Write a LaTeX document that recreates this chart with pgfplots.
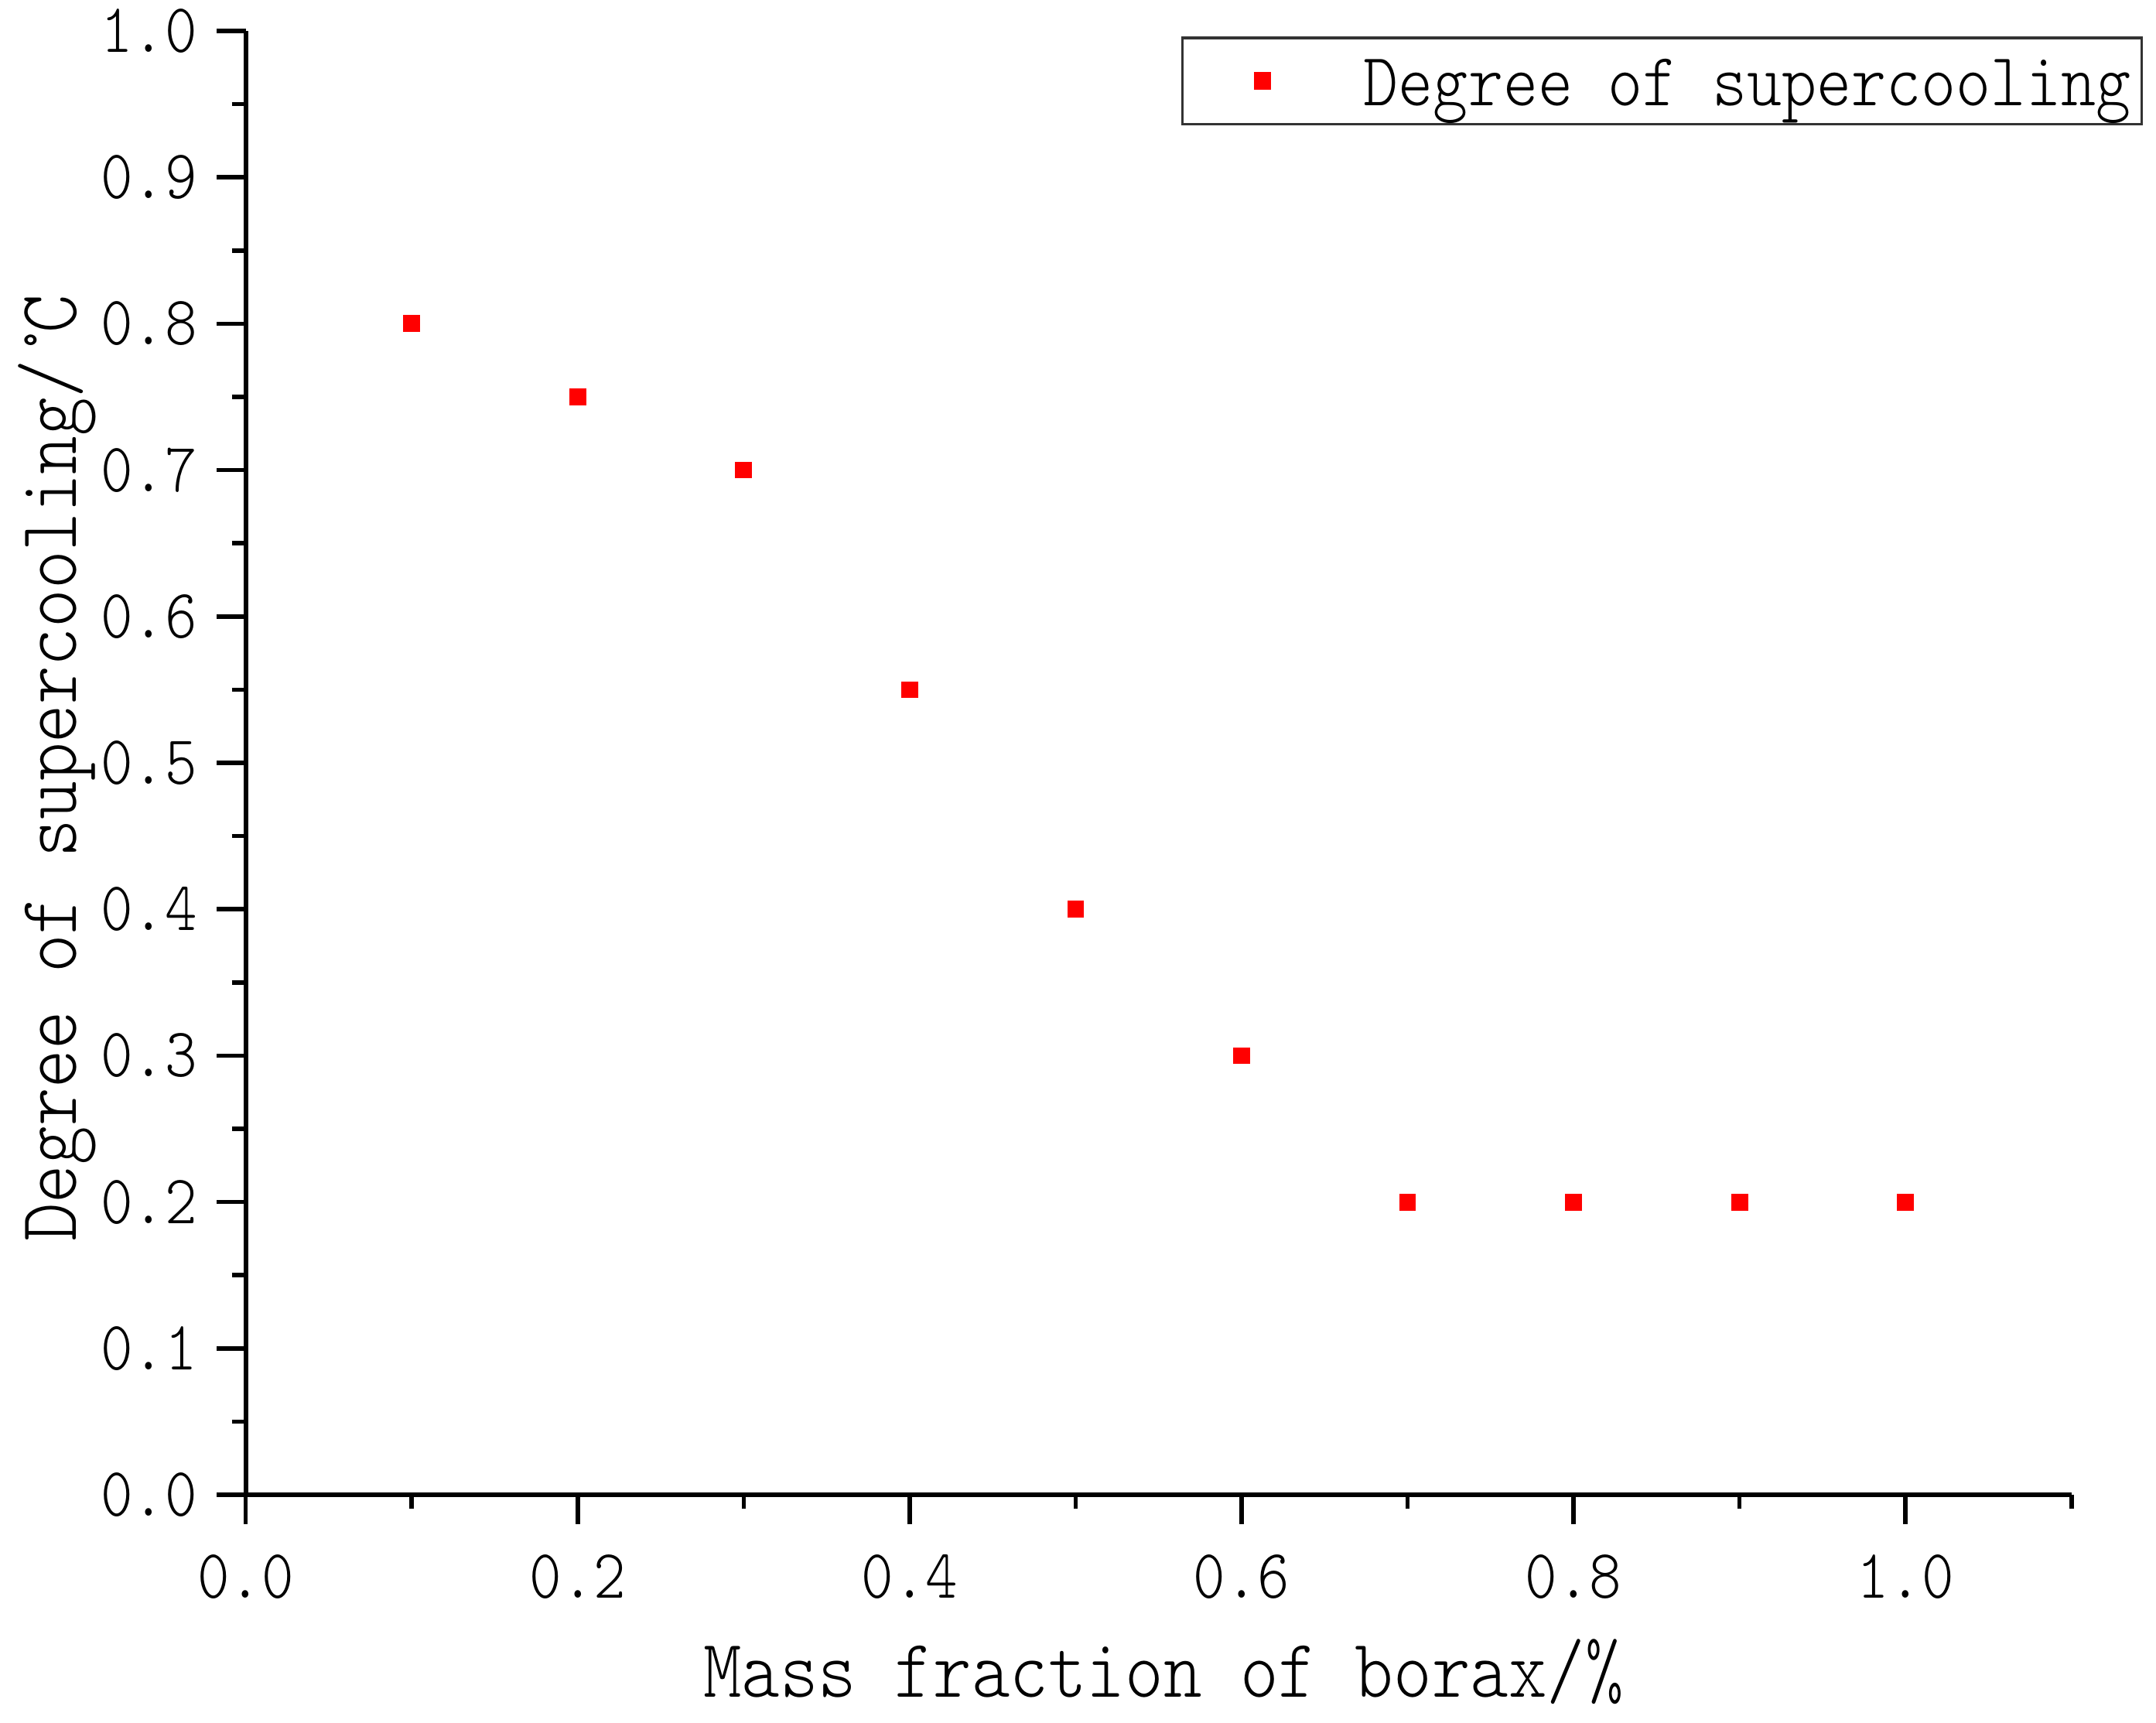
\documentclass[border=0pt]{standalone}
\usepackage{fontspec}
\setmonofont{lmmonolt10-regular.otf}[FakeStretch=0.88]
\usepackage{pgfplots}
\pgfplotsset{compat=1.18}
\renewcommand*\familydefault{\ttdefault}
\begin{document}
\begin{tikzpicture}
\begin{axis}[
  scale only axis,
  width=338.7pt, height=271.55pt,
  xmin=0, xmax=1.1, ymin=0, ymax=1.0,
  clip=false,
  axis x line*=bottom, axis y line*=left,
  axis line style={line width=0.9pt, black},
  xtick={0,0.2,0.4,0.6,0.8,1.0},
  minor xtick={0.1,0.3,0.5,0.7,0.9,1.1},
  ytick={0,0.1,0.2,0.3,0.4,0.5,0.6,0.7,0.8,0.9,1.0},
  minor ytick={0.05,0.15,0.25,0.35,0.45,0.55,0.65,0.75,0.85,0.95},
  tick align=outside,
  major tick length=5.4pt, minor tick length=2.6pt,
  tick style={line width=0.8pt, black},
  xticklabel style={font=\fontsize{12.9}{15}\selectfont, anchor=north, inner sep=0pt, yshift=-5.5pt},
  yticklabel style={font=\fontsize{12.9}{15}\selectfont, anchor=east, inner sep=0pt, xshift=-3.45pt},
  /pgf/number format/fixed,
  /pgf/number format/fixed zerofill,
  /pgf/number format/precision=1,
  /pgf/number format/assume math mode=true,
  xlabel={Mass fraction of borax/\%},
  ylabel={Degree of supercooling/°\kern-0.15em C},
  xlabel style={font=\fontsize{15.4}{18}\selectfont, at={(axis description cs:0.5027,-0.1381)}, anchor=base, inner sep=0pt},
  ylabel style={font=\fontsize{15.4}{18}\selectfont, at={(axis description cs:-0.0930,0.1723)}, anchor=base west, rotate=0, inner sep=0pt},
  legend style={at={(axis description cs:1.0391,0.99614)}, anchor=north east,
    draw=black!80, line width=0.5pt, fill=white, inner xsep=0pt, inner ysep=0pt,
    nodes={inner xsep=2pt, inner ysep=0.3pt, text height=12.3pt, text depth=3.1pt, font=\fontsize{14.0}{16}\selectfont}},
  legend image code/.code={\path[draw=none,fill=none] (0pt,-1pt) rectangle (31.6pt,1pt); \draw[#1] plot coordinates {(14.8pt,0pt)};},
]
\addplot[only marks, mark=square*, mark size=1.36pt, color=red] coordinates {
  (0.1,0.80) (0.2,0.75) (0.3,0.70) (0.4,0.55) (0.5,0.40)
  (0.6,0.30) (0.7,0.20) (0.8,0.20) (0.9,0.20) (1.0,0.20)
};
\addlegendentry{Degree of supercooling}
\path (axis description cs:-0.1346,-0.1554) rectangle (axis description cs:1.0463,1.0211);
\end{axis}
\end{tikzpicture}
\end{document}
